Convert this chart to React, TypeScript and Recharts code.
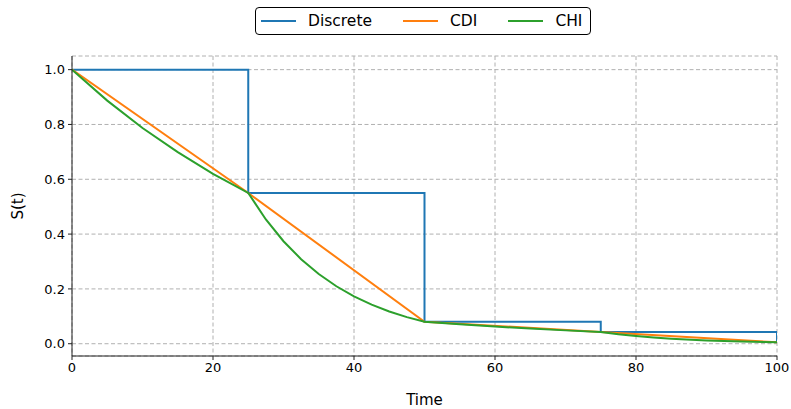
import React from "react";
import { LineChart, Line, XAxis, YAxis, CartesianGrid } from "recharts";

// knots of the survival estimate
const knotTimes = [0, 25, 50, 75, 100];
const knotSurv = [1.0, 0.55, 0.08, 0.043, 0.005];

// CHI curve (denser where it bends most)
const chiTimes = [
  0, 5, 10, 15, 20, 25, 27.5, 30, 32.5, 35, 37.5, 40, 42.5, 45, 47.5, 50,
  55, 60, 65, 70, 75, 77.5, 80, 82.5, 85, 90, 95, 100,
];
const chiSurv = [
  1.0, 0.887, 0.787, 0.699, 0.62, 0.55, 0.4535, 0.374, 0.3084, 0.2543, 0.2097, 0.1729, 0.1426, 0.1176, 0.097, 0.08,
  0.0707, 0.0624, 0.0551, 0.0487, 0.043, 0.0347, 0.028, 0.0225, 0.0182, 0.0118, 0.0077, 0.005,
];

const xTicks = [0, 20, 40, 60, 80, 100];
const yTicks = [0, 0.2, 0.4, 0.6, 0.8, 1.0];

const seriesNames = ["Discrete", "CDI", "CHI"];
const seriesColors = ["#1f77b4", "#ff7f0e", "#2ca02c"];

const knotData = knotTimes.map((t, i) => ({ t, s: knotSurv[i] }));
const chiData = chiTimes.map((t, i) => ({ t, s: chiSurv[i] }));

const font = "'DejaVu Sans', sans-serif";

const LegendBox = () => (
  <div
    style={{
      position: "absolute",
      left: 255,
      top: 7,
      height: 26,
      display: "flex",
      alignItems: "center",
      border: "1.5px solid #000",
      borderRadius: 4,
      background: "#fff",
      padding: "0 8px 0 5px",
      fontFamily: font,
      fontSize: 15.5,
      color: "#000",
    }}
  >
    {seriesNames.map((name, i) => (
      <div key={name} style={{ display: "flex", alignItems: "center", marginLeft: i === 0 ? 0 : 31 }}>
        <svg width={35} height={4} style={{ marginRight: 12 }}>
          <line x1={0} y1={2} x2={35} y2={2} stroke={seriesColors[i]} strokeWidth={2} />
        </svg>
        <span>{name}</span>
      </div>
    ))}
  </div>
);

const YLabel = (props: any) => {
  const vb = props.viewBox || {};
  const cy = (vb.y || 0) + (vb.height || 0) / 2;
  return (
    <text
      x={18}
      y={cy}
      transform={`rotate(-90, 18, ${cy})`}
      textAnchor="middle"
      dominantBaseline="central"
      fontSize={15}
      fontFamily={font}
      fill="#000"
    >
      S(t)
    </text>
  );
};

const App = () => {
  return (
    <div style={{ position: "absolute", left: 0, top: 0, width: 791, height: 409, background: "#fff" }}>
      <LineChart width={791} height={409} margin={{ top: 56, right: 14, bottom: 0, left: 0 }}>
        <CartesianGrid strokeDasharray="4 2.5" stroke="#b0b0b0" strokeWidth={1} />
        <XAxis
          type="number"
          dataKey="t"
          domain={[0, 100]}
          ticks={xTicks}
          height={53}
          tickSize={4}
          tickMargin={3}
          stroke="#222"
          tick={{ fontSize: 13, fill: "#000", fontFamily: font }}
          allowDataOverflow
          label={{ value: "Time", position: "insideBottom", offset: 4, fontSize: 15, fill: "#000", fontFamily: font }}
        />
        <XAxis xAxisId="top" orientation="top" type="number" domain={[0, 100]} height={0} tick={false} tickLine={false} stroke="#222" />
        <YAxis
          type="number"
          dataKey="s"
          domain={[-0.0448, 1.0498]}
          ticks={yTicks}
          width={72}
          tickSize={4}
          tickMargin={3}
          stroke="#222"
          tick={{ fontSize: 13, fill: "#000", fontFamily: font }}
          tickFormatter={(v: number) => v.toFixed(1)}
          allowDataOverflow
          label={<YLabel />}
        />
        <YAxis yAxisId="right" orientation="right" type="number" domain={[0, 1]} width={0} tick={false} tickLine={false} stroke="#222" />
        <Line data={knotData} dataKey="s" type="stepAfter" stroke={seriesColors[0]} strokeWidth={2} dot={false} isAnimationActive={false} />
        <Line data={knotData} dataKey="s" type="linear" stroke={seriesColors[1]} strokeWidth={2} dot={false} isAnimationActive={false} />
        <Line data={chiData} dataKey="s" type="linear" stroke={seriesColors[2]} strokeWidth={2} dot={false} isAnimationActive={false} />
      </LineChart>
      <LegendBox />
    </div>
  );
};

export default App;
